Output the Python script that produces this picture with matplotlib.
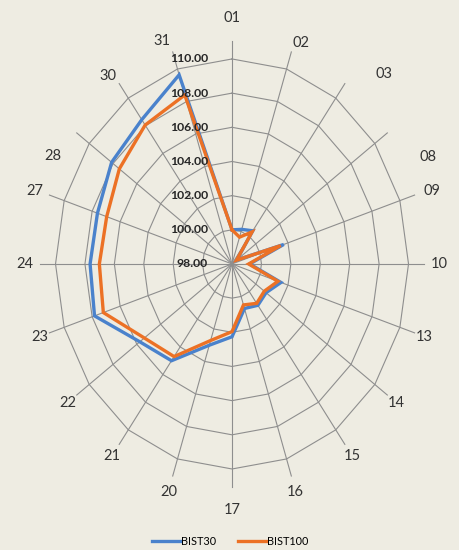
import matplotlib
matplotlib.use('Agg')
import matplotlib.pyplot as plt
import numpy as np

plt.rcParams['font.family'] = ['Lato', 'DejaVu Sans']

# category labels (clockwise from the top)
categories = ['01', '02', '03', '08', '09', '10', '13', '14', '15', '16',
              '17', '20', '21', '22', '23', '24', '27', '28', '30', '31']

bist30 = [100.0, 100.13, 100.4, 98.4, 101.7, 99.2, 101.5, 100.86, 100.99, 100.74,
          102.26, 103.0, 105.0, 105.75, 107.83, 107.65, 107.62, 108.12, 108.44, 109.64]
bist100 = [100.0, 99.65, 100.32, 98.38, 101.48, 99.13, 101.28, 100.71, 100.85, 100.52,
           101.96, 102.71, 104.7, 105.37, 107.2, 107.02, 106.96, 107.47, 108.05, 108.4]

ring_values = [98, 100, 102, 104, 106, 108, 110]
ring_labels = ['98.00', '100.00', '102.00', '104.00', '106.00', '108.00', '110.00']

bg = '#eeece2'
grid_col = '#8e8e8e'

# pixel nudges for a few category labels (Excel places these off the ellipse)
nudge = {'02': (5, -7), '03': (32, -3), '08': (31, -32), '09': (8, 0),
         '27': (-5, 0), '28': (-15, -31), '30': (-4, -5), '31': (-6, -5)}

fig = plt.figure(figsize=(4.6, 5.5), dpi=100, facecolor=bg)
ax = fig.add_axes([0.1207, 0.1473, 0.7674, 0.7455], projection='polar')
ax.set_aspect('auto')
ax.set_facecolor(bg)
ax.patch.set_alpha(0)
ax.set_theta_zero_location('N')
ax.set_theta_direction(-1)
ax.set_ylim(98, 110)
ax.grid(False)
ax.spines['polar'].set_visible(False)
ax.set_xticks([])
ax.set_yticks([])

n = len(categories)
theta = np.linspace(0, 2 * np.pi, n, endpoint=False)
closed = np.append(theta, theta[0])

# polygon gridlines
for r in ring_values[1:]:
    ax.plot(closed, [r] * (n + 1), color=grid_col, lw=0.8, zorder=1,
            clip_on=False)
# spokes (run a little past the outer ring)
for t in theta:
    ax.plot([t, t], [98, 111.05], color=grid_col, lw=0.8, zorder=1,
            clip_on=False)

# series
ax.plot(closed, bist30 + bist30[:1], color='#4a82cc', lw=2.4, zorder=3,
        solid_joinstyle='miter', label='BIST30', clip_on=False)
ax.plot(closed, bist100 + bist100[:1], color='#ec7125', lw=2.4, zorder=4,
        solid_joinstyle='miter', label='BIST100', clip_on=False)

# radial value labels
for r, lab in zip(ring_values, ring_labels):
    ax.annotate(lab, xy=(0, r), xytext=(-24, 0), textcoords='offset pixels',
                ha='right', va='center', fontsize=8.8, fontweight='bold',
                color='#262626', zorder=5)

# category labels on a slightly flattened ellipse outside the spokes
for t, lab in zip(theta, categories):
    s, c = np.sin(t), np.cos(t)
    rn = 1.0 / np.sqrt((s / 1.173) ** 2 + (c / 1.2) ** 2)
    if abs(s) > 0.01 and abs(c) > 0.01:
        rn *= 0.975
    ax.annotate(lab, xy=(t, 98 + 12 * rn), xytext=nudge.get(lab, (0, 0)),
                textcoords='offset pixels', ha='center', va='center',
                fontsize=10.5, color='#333333', annotation_clip=False)

fig.legend(loc='lower center', bbox_to_anchor=(0.5, -0.012), ncol=2,
           frameon=False, fontsize=7.8, handlelength=2.6, columnspacing=2.0,
           handletextpad=0.1)

fig.savefig('out.png', dpi=100, facecolor=bg)
